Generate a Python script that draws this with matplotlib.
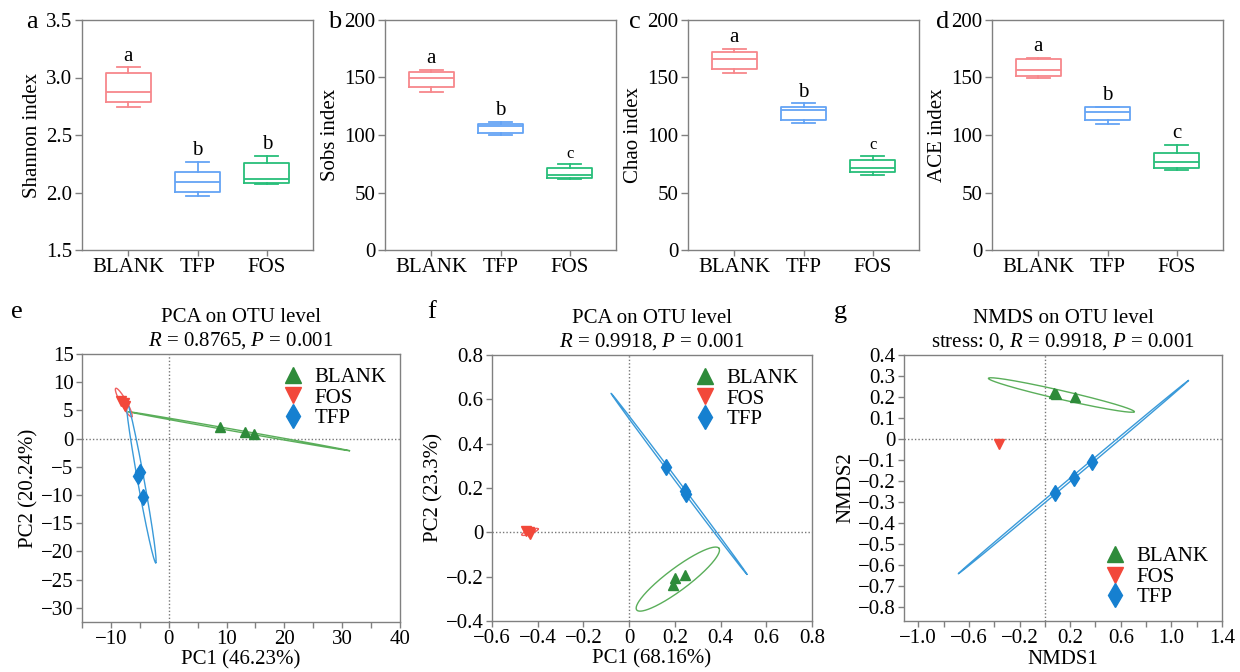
import numpy as np
import matplotlib
matplotlib.use('Agg')
import matplotlib.pyplot as plt
from matplotlib.ticker import MultipleLocator, FuncFormatter
from matplotlib.lines import Line2D

plt.rcParams['font.family'] = ['Liberation Serif', 'DejaVu Serif']
plt.rcParams['mathtext.fontset'] = 'custom'
plt.rcParams['mathtext.rm'] = 'Liberation Serif'
plt.rcParams['mathtext.it'] = 'Liberation Serif:italic'
plt.rcParams['font.size'] = 15

# ---- alpha diversity (whislo, q1, median, q3, whishi) ----
groups = ['BLANK', 'TFP', 'FOS']
shannon = [[2.743, 2.787, 2.877, 3.036, 3.088],
           [1.967, 2.004, 2.094, 2.175, 2.268],
           [2.077, 2.086, 2.117, 2.257, 2.320]]
sobs = [[137.7, 141.4, 149.9, 154.8, 156.8],
        [99.7, 102.0, 107.5, 109.9, 111.6],
        [61.4, 62.3, 64.9, 71.6, 74.5]]
chao = [[153.8, 157.3, 166.2, 172.0, 175.2],
        [110.0, 113.1, 122.1, 124.7, 127.8],
        [64.9, 68.1, 71.0, 78.2, 82.0]]
ace = [[149.9, 151.0, 156.2, 166.1, 167.2],
       [109.6, 112.8, 120.3, 124.1, 124.6],
       [69.6, 71.3, 76.5, 84.6, 91.6]]
shannon_letters = ['a', 'b', 'b']
sobs_letters = ['a', 'b', 'c']
chao_letters = ['a', 'b', 'c']
ace_letters = ['a', 'b', 'c']

# ---- ordination scores ----
e_blank_x = [8.8, 13.2, 14.8]
e_blank_y = [2.1, 1.2, 0.9]
e_fos_x = [-8.2, -7.8, -7.5]
e_fos_y = [6.7, 6.3, 5.7]
e_tfp_x = [-5.0, -5.3, -4.4]
e_tfp_y = [-5.9, -6.6, -10.3]

f_blank_x = [0.245, 0.202, 0.194]
f_blank_y = [-0.192, -0.207, -0.237]
f_fos_x = [-0.45, -0.435, -0.44]
f_fos_y = [0.004, -0.008, 0.0]
f_tfp_x = [0.162, 0.243, 0.250]
f_tfp_y = [0.294, 0.186, 0.174]

g_blank_x = [0.075, 0.085, 0.237]
g_blank_y = [0.218, 0.212, 0.199]
g_fos_x = [-0.362]
g_fos_y = [-0.025]
g_tfp_x = [0.079, 0.230, 0.376]
g_tfp_y = [-0.259, -0.187, -0.111]

# confidence ellipses: centre x, centre y, semi-axis A (x, y), conjugate semi-axis B (x, y)
e_ell = {'BLANK': (12.13, 1.32, 19.12, -3.46, 0.027, 0.157),
         'FOS': (-7.78, 6.40, 1.38, -2.52, 0.45, 0.26),
         'TFP': (-4.76, -7.72, 2.51, -14.27, 0.56, 0.10)}
f_ell = {'BLANK': (0.213, -0.211, 0.180, 0.139, -0.0289, 0.0397),
         'FOS': (-0.434, 0.002, 0.0363, 0.0135, -0.003, 0.0085),
         'TFP': (0.218, 0.219, 0.297, -0.408, 0.0045, 0.0035)}
g_ell = {'BLANK': (0.130, 0.2095, 0.576, -0.0795, 0.0078, 0.0204),
         'TFP': (0.225, -0.182, 0.909, 0.460, -0.0066, 0.0048)}

box_colors = {'BLANK': '#F7878B', 'TFP': '#64A4F5', 'FOS': '#27BE7A'}
pt_colors = {'BLANK': '#2E8B3A', 'FOS': '#F2483A', 'TFP': '#1680D0'}
ell_colors = {'BLANK': '#5AAE5A', 'FOS': '#F06060', 'TFP': '#3A9AD9'}
markers = {'BLANK': '^', 'FOS': 'v', 'TFP': 'd'}
spine_c = '#808080'

W, H = 1240, 672
fig = plt.figure(figsize=(W / 100, H / 100), dpi=100)


def px_axes(l, r, t, b):
    return fig.add_axes([l / W, 1 - b / H, (r - l) / W, (b - t) / H])


def style(ax):
    for s in ax.spines.values():
        s.set_color(spine_c)
        s.set_linewidth(1)
    ax.tick_params(which='both', direction='out', color=spine_c, width=1, length=4, pad=2)


def fmt(v, pos=None, nd=1):
    if abs(v) < 1e-9:
        return '0'
    return f'{v:.{nd}f}'.replace('-', '\u2212')


def boxpanel(ax, data, letters, ylabel, ylim, step, small_c=False, nd=0):
    for i, g in enumerate(groups):
        lo, q1, med, q3, hi = data[i]
        c = box_colors[g]
        st = [dict(whislo=lo, q1=q1, med=med, q3=q3, whishi=hi, fliers=[])]
        ax.bxp(st, positions=[i + 1], widths=0.65, capwidths=0.33, showfliers=False,
               boxprops=dict(color=c, lw=1.3), whiskerprops=dict(color=c, lw=1.3),
               capprops=dict(color=c, lw=1.3), medianprops=dict(color=c, lw=1.3))
        fs = 12 if (small_c and letters[i] == 'c') else 15
        ax.annotate(letters[i], (i + 1, hi), xytext=(0, 4.5), textcoords='offset points',
                    ha='center', va='baseline', fontsize=fs)
    ax.set_xlim(1 / 3, 11 / 3)
    ax.set_ylim(*ylim)
    ax.yaxis.set_major_locator(MultipleLocator(step))
    ax.yaxis.set_major_formatter(FuncFormatter(lambda v, p: fmt(v, p, nd)))
    ax.set_xticks([1, 2, 3])
    ax.set_xticklabels(groups)
    ax.set_ylabel(ylabel, labelpad=3)
    style(ax)
    ax.tick_params(axis='y', length=5)


axa = px_axes(82, 313, 20, 250)
boxpanel(axa, shannon, shannon_letters, 'Shannon index', (1.5, 3.5), 0.5, nd=1)
axb = px_axes(385, 616, 20, 250)
boxpanel(axb, sobs, sobs_letters, 'Sobs index', (0, 200), 50, small_c=True)
axc = px_axes(688, 919, 20, 250)
boxpanel(axc, chao, chao_letters, 'Chao index', (0, 200), 50, small_c=True)
axd = px_axes(992, 1223, 20, 250)
boxpanel(axd, ace, ace_letters, 'ACE index', (0, 200), 50)


def draw_ell(ax, ell):
    t = np.linspace(0, 2 * np.pi, 300)
    for g, (cx, cy, a1, a2, b1, b2) in ell.items():
        ax.plot(cx + a1 * np.cos(t) + b1 * np.sin(t), cy + a2 * np.cos(t) + b2 * np.sin(t),
                color=ell_colors[g], lw=1, zorder=2)


def ordpanel(ax, pts, ell, title, xlabel, ylabel, xlim, ylim, legloc):
    ax.axvline(0, color='#777777', ls=(0, (1, 1.5)), lw=1, zorder=1)
    ax.axhline(0, color='#777777', ls=(0, (1, 1.5)), lw=1, zorder=1)
    draw_ell(ax, ell)
    for g in ['BLANK', 'TFP', 'FOS']:
        x, y = pts[g]
        ax.plot(x, y, ls='none', marker=markers[g], ms=8 if g == 'TFP' else 6.5,
                color=pt_colors[g], zorder=3)
    handles = [Line2D([], [], ls='none', marker=markers[g], ms=12.5 if g == 'TFP' else 12,
                      color=pt_colors[g], label=g) for g in ['BLANK', 'FOS', 'TFP']]
    ax.legend(handles=handles, loc=legloc, frameon=False, handletextpad=0.45,
              labelspacing=0.05, borderaxespad=0.25, handlelength=1.2, fontsize=15)
    ax.set_xlim(*xlim)
    ax.set_ylim(*ylim)
    ax.set_title(title, pad=6, linespacing=1.2, fontsize=15)
    ax.set_xlabel(xlabel, labelpad=1)
    ax.set_ylabel(ylabel, labelpad=2)
    style(ax)


axe = px_axes(82, 400, 354, 622)
ordpanel(axe, {'BLANK': (e_blank_x, e_blank_y), 'FOS': (e_fos_x, e_fos_y), 'TFP': (e_tfp_x, e_tfp_y)},
         e_ell, 'PCA on OTU level\n$R$ = 0.8765, $P$ = 0.001', 'PC1 (46.23%)', 'PC2 (20.24%)',
         (-15, 40), (-32.5, 15), 'upper right')
axe.xaxis.set_major_locator(MultipleLocator(10))
axe.xaxis.set_minor_locator(MultipleLocator(5))
axe.yaxis.set_major_locator(MultipleLocator(5))
axe.xaxis.set_major_formatter(FuncFormatter(lambda v, p: fmt(v, p, 0)))
axe.yaxis.set_major_formatter(FuncFormatter(lambda v, p: fmt(v, p, 0)))

axf = px_axes(492, 812, 355, 621)
ordpanel(axf, {'BLANK': (f_blank_x, f_blank_y), 'FOS': (f_fos_x, f_fos_y), 'TFP': (f_tfp_x, f_tfp_y)},
         f_ell, 'PCA on OTU level\n$R$ = 0.9918, $P$ = 0.001', 'PC1 (68.16%)', 'PC2 (23.3%)',
         (-0.6, 0.8), (-0.4, 0.8), 'upper right')
axf.xaxis.set_major_locator(MultipleLocator(0.2))
axf.yaxis.set_major_locator(MultipleLocator(0.2))
axf.xaxis.set_major_formatter(FuncFormatter(fmt))
axf.yaxis.set_major_formatter(FuncFormatter(fmt))

axg = px_axes(904, 1222, 355, 621)
ordpanel(axg, {'BLANK': (g_blank_x, g_blank_y), 'FOS': (g_fos_x, g_fos_y), 'TFP': (g_tfp_x, g_tfp_y)},
         g_ell, 'NMDS on OTU level\nstress: 0, $R$ = 0.9918, $P$ = 0.001', 'NMDS1', 'NMDS2',
         (-1.113, 1.4), (-0.867, 0.4), 'lower right')
axg.set_xticks([-1.0, -0.6, -0.2, 0.2, 0.6, 1.0, 1.4])
axg.set_xticks([-0.8, -0.4, 0.0, 0.4, 0.8, 1.2], minor=True)
axg.yaxis.set_major_locator(MultipleLocator(0.1))
axg.xaxis.set_major_formatter(FuncFormatter(fmt))
axg.yaxis.set_major_formatter(FuncFormatter(fmt))

for lab, x, y in [('a', 32, 22), ('b', 335, 22), ('c', 635, 22), ('d', 943, 22),
                  ('e', 17, 312), ('f', 432, 312), ('g', 840, 312)]:
    fig.text(x / W, 1 - y / H, lab, fontsize=19, ha='center', va='center')

fig.savefig('out.png', dpi=100, facecolor='white')
